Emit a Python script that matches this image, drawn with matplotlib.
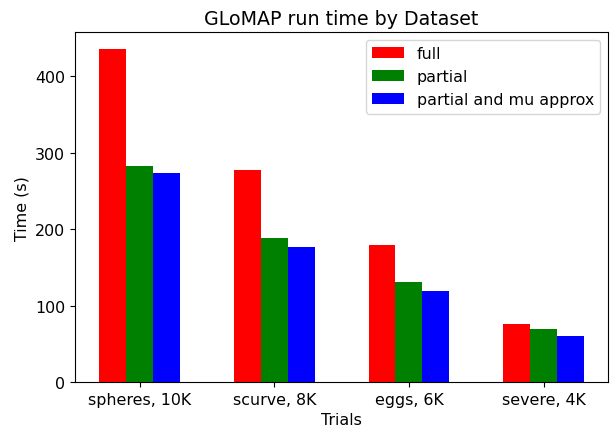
import numpy as np
import matplotlib
matplotlib.use('Agg')
import matplotlib.pyplot as plt

plt.rcParams['font.size'] = 11.4

datasets = ['spheres, 10K', 'scurve, 8K', 'eggs, 6K', 'severe, 4K']
full = [436, 278, 179, 76]
partial = [283, 188, 131, 70]
partial_mu = [274, 177, 119, 60]

x = np.arange(len(datasets))
w = 0.2

fig, ax = plt.subplots(figsize=(6.1, 4.31), dpi=100)
fig.subplots_adjust(left=0.123, right=0.997, bottom=0.111, top=0.923)

ax.bar(x - w, full, w, color='red', label='full')
ax.bar(x, partial, w, color='green', label='partial')
ax.bar(x + w, partial_mu, w, color='blue', label='partial and mu approx')

ax.set_xticks(x)
ax.set_xticklabels(datasets)
ax.set_xlabel('Trials')
ax.set_ylabel('Time (s)')
ax.set_title('GLoMAP run time by Dataset')
ax.legend()

plt.savefig('out.png')
